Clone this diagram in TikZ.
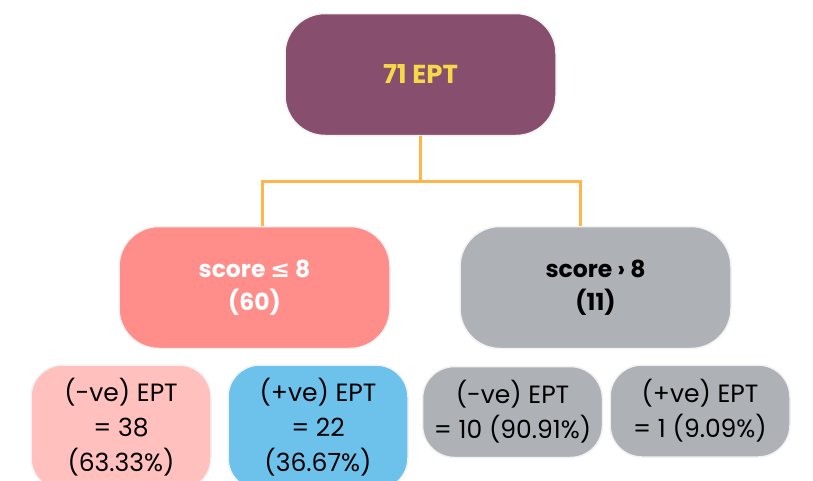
\documentclass[tikz,border=0pt]{standalone}
\usepackage{fontspec}
\setmainfont{Poppins}
\newfontfamily\simboli{DejaVu Sans}

\definecolor{viola}{HTML}{874E6E}
\definecolor{giallo}{HTML}{F7D848}
\definecolor{arancio}{HTML}{FFB547}
\definecolor{salmone}{HTML}{FF8E8B}
\definecolor{rosa}{HTML}{FFC0BE}
\definecolor{azzurro}{HTML}{6DC2EC}
\definecolor{grigio}{HTML}{AEB2B6}

\tikzset{
    scatola/.style={rounded corners=40pt, draw=black!5, line width=1.5pt, align=center, inner sep=0pt},
    grande/.style={scatola, minimum width=271pt, minimum height=122pt, font=\fontsize{23.5}{33}\selectfont\bfseries},
    foglia/.style={scatola, rounded corners=32pt, minimum width=180pt, font=\fontsize{25}{35}\selectfont},
    ramo/.style={arancio, line width=3pt}
}

\begin{document}
\begin{tikzpicture}[x=1pt, y=-1pt]
    \useasboundingbox (0,0) rectangle (813,480); % dimensioni del riferimento
    \clip (0,0) rectangle (813,480); % le foglie in basso sono tagliate

    \node[grande, fill=viola, text=giallo, font=\fontsize{26}{33}\selectfont\bfseries] (radice) at (420.5,74.5) {71 EPT}; % nodo radice
    \node[grande, fill=salmone, text=white] (sx) at (254.5,287.5) {score {\simboli≤} 8\\(60)}; % ramo sinistro
    \node[grande, fill=grigio, text=black] (dx) at (595.5,287.5) {score › 8\\(11)}; % ramo destro

    \coordinate (bivio) at (420.5,181); % punto di separazione
    \draw[ramo] (radice.south) -- (bivio) -| ([xshift=7.5pt]sx.north);
    \draw[ramo] (bivio) -| ([xshift=-15.5pt]dx.north);

    \node[foglia, fill=rosa, minimum height=125pt] (sxneg) at (121,427.5) {(-ve) EPT\\= 38\\(63.33\%)};
    \node[foglia, fill=azzurro, minimum height=125pt] (sxpos) at (318,427.5) {(+ve) EPT\\= 22\\(36.67\%)};
    \node[foglia, fill=grigio, minimum height=91pt] (dxneg) at (512.5,412) {(-ve) EPT\\= 10 (90.91\%)};
    \node[foglia, fill=grigio, minimum height=92pt] (dxpos) at (700,411) {(+ve) EPT\\= 1 (9.09\%)};
\end{tikzpicture}
\end{document}
